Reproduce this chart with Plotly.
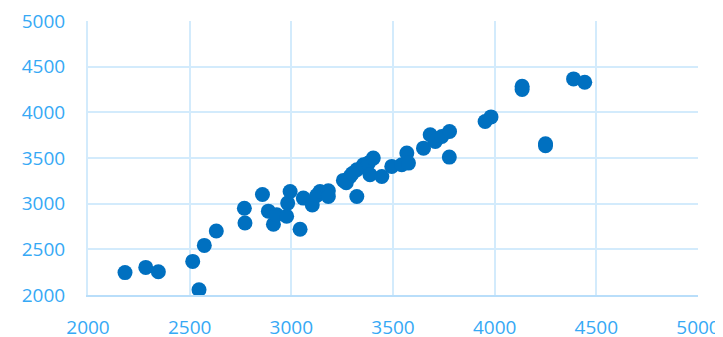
import plotly.graph_objects as go

x_vals = [2182, 2284, 2346, 2515, 2546, 2572, 2631, 2769, 2772, 2858, 2887, 2912, 2928,
          2977, 2982, 2994, 3043, 3059, 3103, 3125, 3141, 3182, 3182, 3256, 3289, 3322,
          3322, 3355, 3379, 3387, 3403, 3445, 3494, 3543, 3568, 3576, 3650, 3683, 3708,
          3740, 3778, 3777, 3953, 3982, 4135, 4135, 4250, 4250, 4388, 4443, 3270, 3300]
y_vals = [2245, 2302, 2255, 2368, 2058, 2543, 2700, 2950, 2788, 3100, 2918, 2775, 2878,
          2862, 3006, 3133, 2720, 3061, 2985, 3090, 3133, 3141, 3079, 3255, 3298, 3079,
          3371, 3426, 3444, 3316, 3499, 3298, 3408, 3426, 3554, 3444, 3608, 3754, 3681,
          3736, 3790, 3510, 3900, 3950, 4285, 4250, 3655, 3635, 4366, 4330, 3230, 3330]

tick_vals = [2000, 2500, 3000, 3500, 4000, 4500, 5000]

fig = go.Figure(go.Scatter(
    x=x_vals, y=y_vals, mode="markers",
    marker=dict(color="#0070c0", size=15, line=dict(width=0)),
    hoverinfo="x+y"))

font = dict(family="Open Sans", size=19, color="#36a9f5")
# page body has an 8px default margin, so the figure is drawn at (8, 8)
fig.update_layout(
    width=715, height=329,
    margin=dict(l=80, r=25, t=13, b=42),
    paper_bgcolor="white", plot_bgcolor="white",
    showlegend=False,
    xaxis=dict(range=[2000, 5000], tickvals=tick_vals, showgrid=True,
               gridcolor="#d3ebfc", gridwidth=2, zeroline=False,
               showline=True, linecolor="#b9defa", linewidth=2, mirror=False,
               tickfont=font, ticks="", ticklabelstandoff=14, automargin=False,
               ticklabeloverflow="allow"),
    yaxis=dict(range=[2000, 5000], tickvals=tick_vals, showgrid=True,
               gridcolor="#d3ebfc", gridwidth=2, zeroline=False,
               showline=True, linecolor="#d3ebfc", linewidth=2,
               tickfont=font, ticks="", ticklabelstandoff=17, automargin=False,
               ticklabeloverflow="allow"),
)
fig.write_html("out.html")
